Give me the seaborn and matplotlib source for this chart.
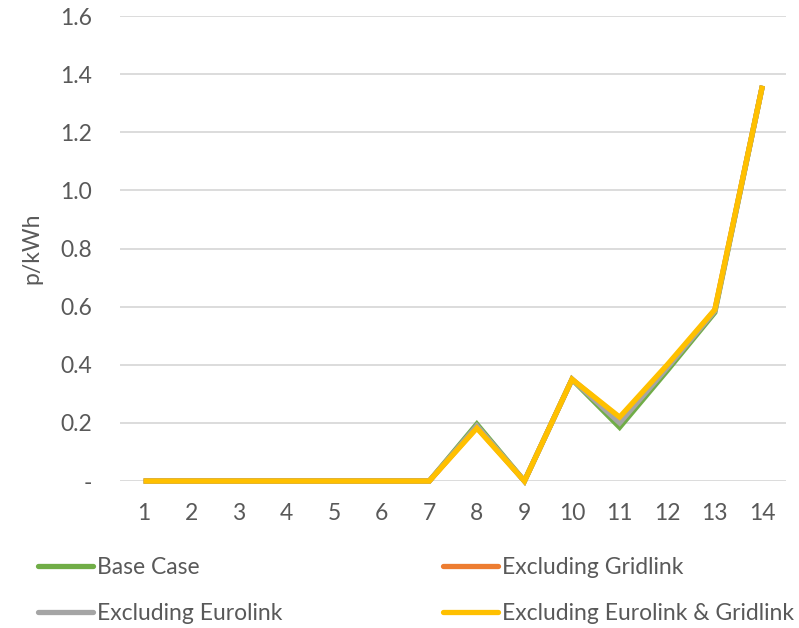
import matplotlib.pyplot as plt
import pandas as pd
import seaborn as sns

periods = list(range(1, 15))
base_case = [0, 0, 0, 0, 0, 0, 0, 0.196, 0, 0.35, 0.185, 0.38, 0.58, 1.36]
excl_gridlink = [0, 0, 0, 0, 0, 0, 0, 0.185, 0, 0.35, 0.215, 0.395, 0.588, 1.36]
excl_eurolink = [0, 0, 0, 0, 0, 0, 0, 0.19, 0, 0.35, 0.20, 0.39, 0.585, 1.36]
excl_both = [0, 0, 0, 0, 0, 0, 0, 0.182, 0, 0.35, 0.22, 0.40, 0.59, 1.36]

series_names = ['Base Case', 'Excluding Gridlink', 'Excluding Eurolink', 'Excluding Eurolink & Gridlink']
series_colors = ['#70AD47', '#ED7D31', '#A5A5A5', '#FFC000']
y_ticks = [0, 0.2, 0.4, 0.6, 0.8, 1.0, 1.2, 1.4, 1.6]
y_tick_labels = ['-', '0.2', '0.4', '0.6', '0.8', '1.0', '1.2', '1.4', '1.6']

frames = []
for name, vals in zip(series_names, [base_case, excl_gridlink, excl_eurolink, excl_both]):
    frames.append(pd.DataFrame({'period': periods, 'value': vals, 'series': name}))
df = pd.concat(frames, ignore_index=True)

sns.set_theme(style='white')
plt.rcParams['font.family'] = ['Lato', 'DejaVu Sans']
text_color = '#595959'
fs = 16.5

fig = plt.figure(figsize=(7.99, 6.28), dpi=100)
ax = fig.add_axes([0.150, 0.234, 0.834, 0.7405])

sns.lineplot(
    data=df, x='period', y='value', hue='series',
    hue_order=series_names, palette=series_colors,
    linewidth=3.8, ax=ax, legend=False, clip_on=False,
)
for line in ax.get_lines():
    line.set_solid_capstyle('butt')
    line.set_solid_joinstyle('miter')

ax.set_xlim(0.5, 14.5)
ax.set_ylim(0, 1.6)
ax.set_yticks(y_ticks)
ax.set_yticklabels(y_tick_labels)
ax.set_xticks(periods)
ax.set_xticklabels([str(p) for p in periods])
ax.yaxis.grid(True, color='#D9D9D9', linewidth=1.3)
ax.set_axisbelow(True)
for spine in ax.spines.values():
    spine.set_visible(False)
ax.tick_params(axis='both', length=0, labelsize=fs, colors=text_color)
ax.tick_params(axis='y', pad=20)
ax.tick_params(axis='x', pad=16)
ax.set_xlabel('')
ax.set_ylabel('p/kWh', fontsize=fs, color=text_color, labelpad=13)

# legend is filled column-wise, so order handles to read row-wise like the original
order = [0, 2, 1, 3]
handles = [plt.Line2D([], [], color=series_colors[i], linewidth=3.8, solid_capstyle='round') for i in order]
labels = [series_names[i] for i in order]
fig.legend(
    handles, labels, loc='lower left', bbox_to_anchor=(0.0476, 0.006),
    ncol=2, frameon=False, fontsize=fs, labelcolor=text_color,
    borderpad=0, borderaxespad=0,
    handlelength=2.4, handletextpad=0.17, columnspacing=7.0, labelspacing=1.1,
)

fig.savefig('out.png', dpi=100)
